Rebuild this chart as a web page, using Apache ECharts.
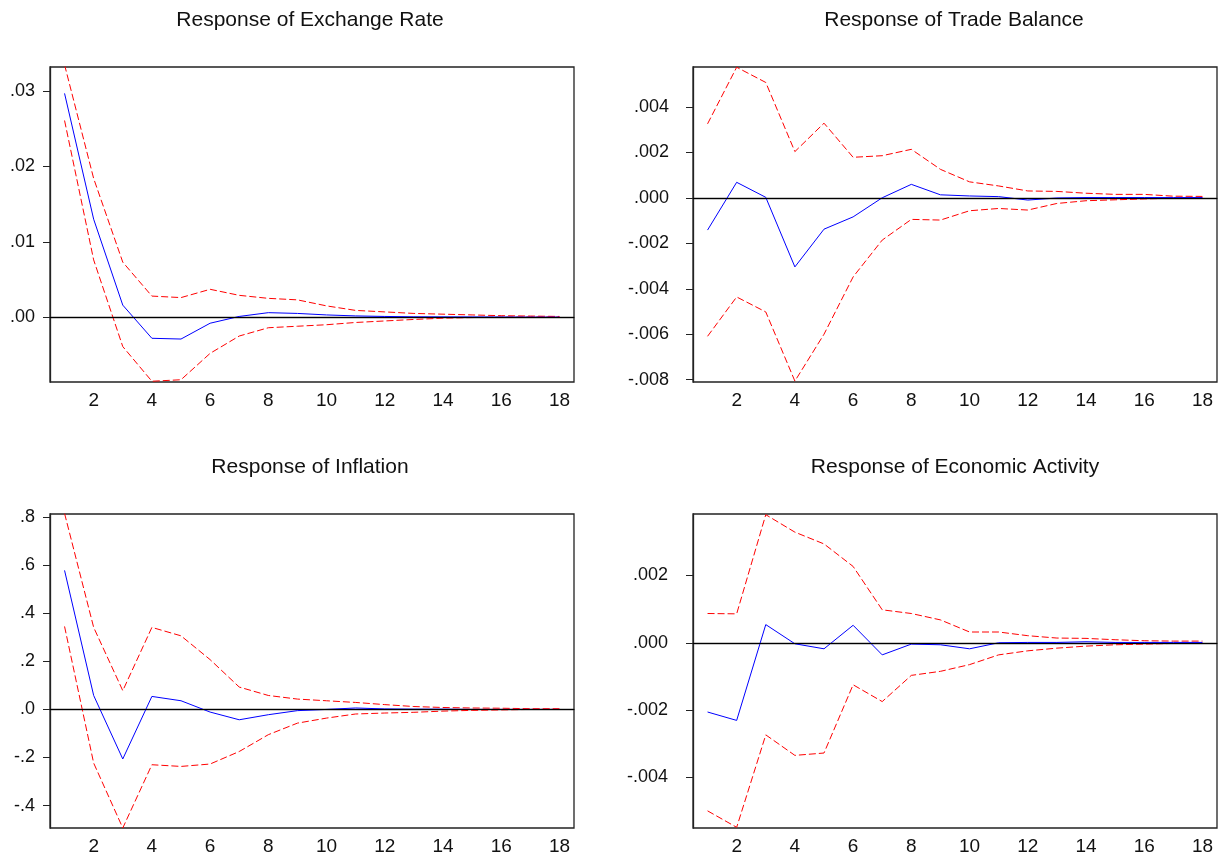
<!DOCTYPE html>
<html>
<head>
<meta charset="utf-8">
<script src="https://cdn.jsdelivr.net/npm/echarts@6/dist/echarts.min.js"></script>
<style>
  html, body { margin: 0; padding: 0; background: #fff; }
  #chart { width: 1231px; height: 861px; }
</style>
</head>
<body>
<div id="chart"></div>
<script>
// Impulse-response periods
const periods = ['1','2','3','4','5','6','7','8','9','10','11','12','13','14','15','16','17','18'];

// Response of Exchange Rate
const exchangeRateResp  = [0.0297, 0.0130, 0.0016, -0.0028, -0.0029, -0.0008, 0.0001, 0.0006, 0.0005, 0.0003, 0.00017, 0.0001, 0.00005, 0.00004, 0.00003, 0.00002, 0.00001, 0.00001];
const exchangeRateUpper = [0.0335, 0.0184, 0.0073, 0.0028, 0.0026, 0.0037, 0.0029, 0.0025, 0.0023, 0.0015, 0.0009, 0.0007, 0.0005, 0.0004, 0.0003, 0.0002, 0.00015, 0.0001];
const exchangeRateLower = [0.0261, 0.0076, -0.0039, -0.0085, -0.0083, -0.0048, -0.0025, -0.0014, -0.0012, -0.0010, -0.0007, -0.0005, -0.0003, -0.00013, -0.00005, 0.0, 0.00003, 0.00003];
const exchangeRateTicks = [0, 0.01, 0.02, 0.03];

// Response of Trade Balance
const tradeBalanceResp  = [-0.00142, 0.00068, 0.00002, -0.00304, -0.00138, -0.00084, 0.0, 0.00059, 0.00013, 0.00008, 0.00005, -0.0001, -0.00001, 0.00001, 0.00001, 0.00001, 0.00001, 0.00001];
const tradeBalanceUpper = [0.00325, 0.00574, 0.00507, 0.00203, 0.00328, 0.00178, 0.00185, 0.00213, 0.00125, 0.0007, 0.00052, 0.0003, 0.00028, 0.0002, 0.00015, 0.00015, 0.00007, 0.00006];
const tradeBalanceLower = [-0.00609, -0.00436, -0.00502, -0.00806, -0.006, -0.00348, -0.00186, -0.00095, -0.00098, -0.00057, -0.00047, -0.00054, -0.00025, -0.00013, -0.00009, -0.00005, -0.00002, 0.0];
const tradeBalanceTicks = [-0.008, -0.006, -0.004, -0.002, 0, 0.002, 0.004];

// Response of Inflation
const inflationResp  = [0.578, 0.058, -0.206, 0.054, 0.036, -0.011, -0.043, -0.022, -0.005, 0.0, 0.006, 0.002, 0.001, 0.001, 0.0, 0.0, 0.0, 0.0];
const inflationUpper = [0.815, 0.341, 0.078, 0.341, 0.306, 0.207, 0.093, 0.058, 0.043, 0.036, 0.029, 0.020, 0.012, 0.008, 0.006, 0.005, 0.003, 0.003];
const inflationLower = [0.345, -0.223, -0.493, -0.230, -0.237, -0.227, -0.175, -0.105, -0.057, -0.036, -0.019, -0.015, -0.012, -0.007, -0.004, -0.002, 0.0, 0.0];
const inflationTicks = [-0.4, -0.2, 0, 0.2, 0.4, 0.6, 0.8];

// Response of Economic Activity
const activityResp  = [-0.00206, -0.00231, 0.00054, -0.00003, -0.00018, 0.00052, -0.00036, -0.00004, -0.00006, -0.00018, 0.0, 0.00001, 0.00001, 0.00003, 0.00001, 0.00001, 0.00001, 0.00001];
const activityUpper = [0.00087, 0.00086, 0.00381, 0.00329, 0.00294, 0.00227, 0.00098, 0.00087, 0.00068, 0.00032, 0.00032, 0.00021, 0.00014, 0.00013, 0.00009, 0.00006, 0.00005, 0.00005];
const activityLower = [-0.005, -0.00549, -0.00274, -0.00335, -0.00328, -0.00125, -0.00175, -0.00097, -0.00085, -0.00065, -0.00036, -0.00024, -0.00016, -0.0001, -0.00006, -0.00004, -0.00002, -0.00001];
const activityTicks = [-0.004, -0.002, 0, 0.002];

const panels = [
  { title: 'Response of Exchange Rate', resp: exchangeRateResp, upper: exchangeRateUpper, lower: exchangeRateLower,
    ticks: exchangeRateTicks, decimals: 2, min: -0.0086, max: 0.0332,
    grid: { left: 50, top: 67, width: 524, height: 315 }, titleX: 310, titleY: 10, labelMargin: 15 },
  { title: 'Response of Trade Balance', resp: tradeBalanceResp, upper: tradeBalanceUpper, lower: tradeBalanceLower,
    ticks: tradeBalanceTicks, decimals: 3, min: -0.0081, max: 0.00575,
    grid: { left: 693, top: 67, width: 524, height: 315 }, titleX: 954, titleY: 10, labelMargin: 24 },
  { title: 'Response of Inflation', resp: inflationResp, upper: inflationUpper, lower: inflationLower,
    ticks: inflationTicks, decimals: 1, min: -0.493, max: 0.8125,
    grid: { left: 50, top: 514, width: 524, height: 314 }, titleX: 310, titleY: 457, labelMargin: 15 },
  { title: 'Response of Economic Activity', resp: activityResp, upper: activityUpper, lower: activityLower,
    ticks: activityTicks, decimals: 3, min: -0.00551, max: 0.00383,
    grid: { left: 693, top: 514, width: 524, height: 314 }, titleX: 955, titleY: 457, labelMargin: 25 }
];

const FONT = 'Liberation Sans, Arial, sans-serif';

// EViews-style tick labels: drop the leading zero (".03", "-.002")
function fmt(v, d) {
  return v.toFixed(d).replace(/^(-?)0\./, '$1.');
}

const option = {
  animation: false,
  backgroundColor: '#ffffff',
  title: [],
  grid: [],
  xAxis: [],
  yAxis: [],
  series: []
};

panels.forEach((p, i) => {
  option.title.push({
    text: p.title, left: p.titleX, top: p.titleY, textAlign: 'center', padding: 0,
    textStyle: { fontFamily: FONT, fontSize: 21, fontWeight: 'normal', color: '#111' }
  });
  option.grid.push(Object.assign({ show: true, borderColor: '#222', borderWidth: 1.3, backgroundColor: 'transparent' }, p.grid));
  option.xAxis.push({
    type: 'category', gridIndex: i, data: periods, boundaryGap: true,
    axisLine: { lineStyle: { color: '#222', width: 1.3 } },
    axisTick: { interval: 0, length: 6, lineStyle: { color: '#222' } },
    axisLabel: { interval: (idx) => idx % 2 === 1, margin: 9, fontFamily: FONT, fontSize: 19, color: '#111' },
    splitLine: { show: false }
  });
  option.yAxis.push({
    type: 'value', gridIndex: i, min: p.min, max: p.max,
    axisLine: { show: true, lineStyle: { color: '#222', width: 1.3 } },
    axisTick: { show: true, length: 7, customValues: p.ticks, lineStyle: { color: '#222' } },
    axisLabel: { customValues: p.ticks, margin: p.labelMargin, fontFamily: FONT, fontSize: 18, color: '#111',
      formatter: (v) => fmt(v, p.decimals) },
    splitLine: { show: false }
  });
  option.series.push({
    type: 'line', xAxisIndex: i, yAxisIndex: i, data: p.resp, symbol: 'none', z: 3,
    lineStyle: { color: '#0000ff', width: 1 },
    markLine: {
      silent: true, symbol: ['none', 'none'], label: { show: false },
      lineStyle: { color: '#000', width: 1, type: 'solid' },
      data: [{ yAxis: 0 }]
    }
  });
  [p.upper, p.lower].forEach((band) => {
    option.series.push({
      type: 'line', xAxisIndex: i, yAxisIndex: i, data: band, symbol: 'none', z: 2,
      lineStyle: { color: '#ff0000', width: 1, type: [7, 3] }
    });
  });
});

const chart = echarts.init(document.getElementById('chart'), null, { renderer: 'canvas' });
chart.setOption(option);
</script>
</body>
</html>
